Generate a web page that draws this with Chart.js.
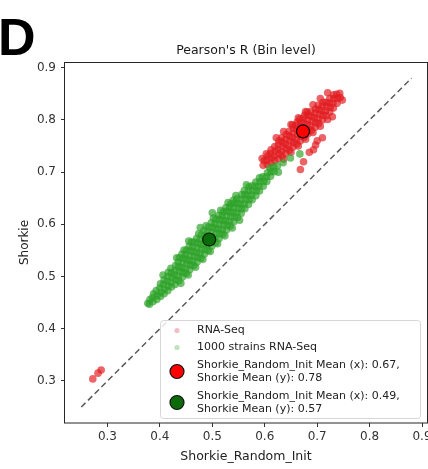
<!doctype html>
<html>

<head>
  <meta charset="utf-8">
  <title>Pearson's R (Bin level)</title>
  <script src="https://cdn.jsdelivr.net/npm/chart.js@4/dist/chart.umd.min.js"></script>
  <style>
  html, body {
    margin: 0;
    padding: 0;
    overflow: hidden;
    background: #fff;
  }
  </style>
</head>

<body>
  <canvas id="canvas" width="440" height="469"></canvas>
  <script>

  // axis ticks and limits
  var tickValues = [0.3, 0.4, 0.5, 0.6, 0.7, 0.8, 0.9];
  var xRange = [0.219, 0.9095];
  var yRange = [0.2195, 0.911];

  // y = x reference line
  var diagonal = [[0.25, 0.25], [0.88, 0.88]];

  // means: [Shorkie_Random_Init, Shorkie] for RNA-Seq and 1000 strains RNA-Seq
  var meanPoints = [[0.673, 0.778], [0.494, 0.571]];

  // RNA-Seq bins: [Shorkie_Random_Init, Shorkie]
  var rnaSeq = [
    [0.597,0.713],[0.599,0.722],
    [0.605,0.714],[0.604,0.723],[0.606,0.731],
    [0.612,0.718],[0.613,0.727],[0.611,0.736],[0.612,0.743],
    [0.619,0.722],[0.618,0.731],[0.620,0.740],[0.619,0.749],
    [0.626,0.726],[0.627,0.735],[0.625,0.744],[0.626,0.753],[0.627,0.760],
    [0.633,0.731],[0.632,0.740],[0.634,0.749],[0.633,0.758],[0.632,0.766],
    [0.640,0.736],[0.641,0.745],[0.639,0.754],[0.640,0.763],[0.641,0.772],
    [0.647,0.742],[0.646,0.751],[0.648,0.760],[0.647,0.769],[0.646,0.778],
    [0.654,0.748],[0.655,0.757],[0.653,0.766],[0.654,0.775],[0.655,0.784],[0.653,0.790],
    [0.661,0.754],[0.660,0.763],[0.662,0.772],[0.661,0.781],[0.660,0.790],[0.662,0.796],
    [0.668,0.760],[0.669,0.769],[0.667,0.778],[0.668,0.787],[0.669,0.796],[0.667,0.802],
    [0.675,0.767],[0.674,0.776],[0.676,0.785],[0.675,0.794],[0.674,0.803],[0.676,0.809],
    [0.682,0.773],[0.683,0.782],[0.681,0.791],[0.682,0.800],[0.683,0.809],[0.681,0.815],
    [0.689,0.780],[0.688,0.789],[0.690,0.798],[0.689,0.807],[0.688,0.816],
    [0.696,0.786],[0.697,0.795],[0.695,0.804],[0.696,0.813],[0.697,0.821],
    [0.703,0.793],[0.702,0.802],[0.704,0.811],[0.703,0.820],[0.702,0.828],
    [0.710,0.800],[0.711,0.809],[0.709,0.818],[0.710,0.827],[0.711,0.834],
    [0.717,0.808],[0.716,0.817],[0.718,0.826],[0.717,0.834],
    [0.724,0.815],[0.725,0.824],[0.723,0.833],[0.724,0.841],
    [0.731,0.823],[0.730,0.832],[0.732,0.841],[0.731,0.848],
    [0.738,0.832],[0.739,0.841],[0.737,0.849],
    [0.744,0.843],[0.743,0.851],
    [0.636,0.725],[0.650,0.738],[0.664,0.750],[0.678,0.763],[0.692,0.776],
    [0.706,0.788],[0.720,0.801],
    [0.622,0.766],[0.636,0.778],[0.650,0.791],[0.664,0.804],[0.678,0.816],
    [0.692,0.829],[0.706,0.841],[0.720,0.852],
    [0.697,0.752],[0.710,0.766],[0.693,0.743],[0.674,0.720],[0.668,0.705],
    [0.729,0.806],[0.748,0.838],[0.700,0.760],[0.685,0.738],[0.595,0.726],
    [0.603,0.735],[0.272,0.304],[0.282,0.315],[0.288,0.321]
  ];

  // 1000 strains RNA-Seq bins: [Shorkie_Random_Init, Shorkie]
  var strainsRnaSeq = [
    [0.377,0.449],[0.380,0.447],[0.381,0.456],
    [0.387,0.452],[0.386,0.460],[0.388,0.467],
    [0.394,0.456],[0.395,0.464],[0.393,0.473],
    [0.401,0.462],[0.402,0.470],[0.400,0.478],[0.401,0.486],
    [0.408,0.467],[0.409,0.476],[0.407,0.485],[0.408,0.494],
    [0.415,0.473],[0.416,0.482],[0.414,0.491],[0.415,0.500],[0.416,0.508],
    [0.422,0.480],[0.421,0.489],[0.423,0.498],[0.422,0.507],[0.421,0.516],
    [0.429,0.485],[0.430,0.494],[0.428,0.503],[0.429,0.512],[0.430,0.521],
    [0.436,0.492],[0.435,0.501],[0.437,0.510],[0.436,0.519],[0.435,0.528],[0.437,0.536],
    [0.443,0.499],[0.444,0.508],[0.442,0.517],[0.443,0.526],[0.444,0.535],[0.442,0.543],
    [0.450,0.506],[0.449,0.515],[0.451,0.524],[0.450,0.533],[0.449,0.542],[0.451,0.551],
    [0.457,0.513],[0.458,0.522],[0.456,0.531],[0.457,0.540],[0.458,0.549],[0.456,0.558],
    [0.464,0.521],[0.463,0.530],[0.465,0.539],[0.464,0.548],[0.463,0.557],[0.465,0.566],
    [0.471,0.528],[0.472,0.537],[0.470,0.546],[0.471,0.555],[0.472,0.564],[0.470,0.573],
    [0.478,0.535],[0.477,0.544],[0.479,0.553],[0.478,0.562],[0.477,0.571],[0.479,0.580],
    [0.485,0.543],[0.486,0.552],[0.484,0.561],[0.485,0.570],[0.486,0.579],[0.484,0.588],
    [0.492,0.550],[0.491,0.559],[0.493,0.568],[0.492,0.577],[0.491,0.586],[0.493,0.595],
    [0.499,0.558],[0.500,0.567],[0.498,0.576],[0.499,0.585],[0.500,0.594],[0.498,0.603],
    [0.506,0.565],[0.505,0.574],[0.507,0.583],[0.506,0.592],[0.505,0.601],[0.507,0.610],
    [0.513,0.573],[0.514,0.582],[0.512,0.591],[0.513,0.600],[0.514,0.609],[0.512,0.617],
    [0.520,0.581],[0.519,0.590],[0.521,0.599],[0.520,0.608],[0.519,0.617],[0.521,0.624],
    [0.527,0.589],[0.528,0.598],[0.526,0.607],[0.527,0.616],[0.528,0.625],[0.526,0.632],
    [0.534,0.597],[0.533,0.606],[0.535,0.615],[0.534,0.624],[0.533,0.633],[0.535,0.639],
    [0.541,0.605],[0.542,0.614],[0.540,0.623],[0.541,0.632],[0.542,0.641],[0.540,0.646],
    [0.548,0.613],[0.547,0.622],[0.549,0.631],[0.548,0.640],[0.547,0.649],
    [0.555,0.621],[0.556,0.630],[0.554,0.639],[0.555,0.648],[0.556,0.657],
    [0.562,0.630],[0.561,0.639],[0.563,0.648],[0.562,0.657],[0.561,0.665],
    [0.569,0.638],[0.570,0.647],[0.568,0.656],[0.569,0.665],[0.570,0.672],
    [0.576,0.647],[0.575,0.656],[0.577,0.665],[0.576,0.674],
    [0.583,0.655],[0.584,0.664],[0.582,0.673],[0.583,0.681],
    [0.590,0.664],[0.589,0.673],[0.591,0.682],[0.590,0.689],
    [0.597,0.673],[0.598,0.682],[0.596,0.691],
    [0.604,0.682],[0.603,0.691],[0.605,0.699],
    [0.611,0.692],[0.612,0.701],[0.610,0.708],
    [0.618,0.701],[0.617,0.710],[0.624,0.712],
    [0.440,0.487],[0.454,0.503],[0.468,0.518],[0.482,0.533],[0.496,0.548],
    [0.510,0.563],[0.524,0.578],[0.538,0.593],[0.552,0.608],
    [0.432,0.536],[0.446,0.551],[0.460,0.566],[0.474,0.582],[0.488,0.597],
    [0.502,0.612],[0.516,0.627],[0.530,0.642],[0.545,0.655],
    [0.477,0.594],[0.500,0.622],[0.406,0.503],[0.455,0.568],[0.565,0.676],
    [0.635,0.718],[0.649,0.727],[0.667,0.735],[0.626,0.700]
  ];

  var redPts = 'rgba(226, 28, 32, 0.68)';
  var greenPts = 'rgba(44, 162, 40, 0.68)';
  var font = '"DejaVu Sans", sans-serif';

  function toXY(list) {
    return list.map(function(p) { return {x: p[0], y: p[1]}; });
  }

  function meanLabel(m) {
    return 'Shorkie_Random_Init Mean (x): ' + m[0].toFixed(2) + ',\nShorkie Mean (y): ' + m[1].toFixed(2);
  }

  var decorations = {
    id: 'decorations',
    afterDraw: function(chart) {
      var ctx = chart.ctx;
      var a = chart.chartArea;
      ctx.save();

      // frame (all four spines)
      ctx.strokeStyle = '#262626';
      ctx.lineWidth = 1;
      ctx.strokeRect(Math.round(a.left) - 0.5, Math.round(a.top) + 0.5,
        Math.round(a.right - a.left) + 1, Math.round(a.bottom - a.top) - 0.5);

      // legend box in lower right
      var lw = 260, lh = 98;
      var lx = a.right - 7 - lw, ly = a.bottom - 5 - lh;
      ctx.beginPath();
      ctx.roundRect(lx + 0.5, ly + 0.5, lw, lh, 3);
      ctx.fillStyle = 'rgba(255,255,255,0.85)';
      ctx.fill();
      ctx.strokeStyle = '#d6d6d6';
      ctx.stroke();

      var rows = [17, 17, 31, 31];
      var y = ly + 2;
      ctx.font = '11px ' + font;
      ctx.textBaseline = 'middle';
      ctx.textAlign = 'left';
      chart.data.datasets.forEach(function(ds) {
        if (!ds.legend) return;
        var h = rows.shift();
        var cy = y + h / 2;
        ctx.beginPath();
        if (ds.legend === 'small') {
          ctx.arc(lx + 17, cy, 2.6, 0, Math.PI * 2);
          ctx.fillStyle = ds.legendColor;
          ctx.fill();
        } else {
          ctx.arc(lx + 17, cy, 7, 0, Math.PI * 2);
          ctx.fillStyle = ds.backgroundColor;
          ctx.fill();
          ctx.lineWidth = 1.2;
          ctx.strokeStyle = '#111';
          ctx.stroke();
        }
        var lines = ds.label.split('\n');
        ctx.fillStyle = '#222';
        lines.forEach(function(t, i) {
          ctx.fillText(t, lx + 37, cy + (i - (lines.length - 1) / 2) * 13);
        });
        y += h;
      });

      // plot title
      ctx.font = '12.5px ' + font;
      ctx.textAlign = 'center';
      ctx.fillStyle = '#1a1a1a';
      ctx.fillText("Pearson's R (Bin level)", (a.left + a.right) / 2, 51);

      // panel letter
      ctx.font = 'bold 52px "Liberation Sans", Arial, sans-serif';
      ctx.textAlign = 'left';
      ctx.textBaseline = 'alphabetic';
      ctx.fillStyle = '#000';
      ctx.fillText('D', -2, 55);

      ctx.restore();
    }
  };

  function axisTicks(scale) {
    scale.ticks = tickValues.map(function(v) { return {value: v}; });
  }

  var ctx = document.getElementById('canvas').getContext('2d');
  window.myChart = new Chart(ctx, {
    type: 'scatter',
    data: {
      datasets: [{
        label: 'RNA-Seq',
        data: toXY(rnaSeq),
        backgroundColor: redPts,
        borderWidth: 0,
        pointRadius: 3.8,
        legend: 'small',
        legendColor: 'rgba(214, 39, 60, 0.3)',
        order: 4
      }, {
        label: '1000 strains RNA-Seq',
        data: toXY(strainsRnaSeq),
        backgroundColor: greenPts,
        borderWidth: 0,
        pointRadius: 3.8,
        legend: 'small',
        legendColor: 'rgba(44, 160, 44, 0.3)',
        order: 3
      }, {
        label: meanLabel(meanPoints[0]),
        data: toXY([meanPoints[0]]),
        backgroundColor: '#ff0000',
        borderColor: '#1a0000',
        borderWidth: 1.2,
        pointRadius: 6.5,
        legend: 'big',
        order: 0
      }, {
        label: meanLabel(meanPoints[1]),
        data: toXY([meanPoints[1]]),
        backgroundColor: '#0b6b0b',
        borderColor: '#001a00',
        borderWidth: 1.2,
        pointRadius: 6.5,
        legend: 'big',
        order: 1
      }, {
        type: 'line',
        label: 'y = x',
        data: toXY(diagonal),
        borderColor: '#5a5a5a',
        borderWidth: 1.5,
        borderDash: [6, 3.5],
        pointRadius: 0,
        fill: false,
        order: 2
      }]
    },
    options: {
      responsive: false,
      animation: false,
      events: [],
      layout: {
        padding: {left: 0, right: 13, top: 62, bottom: 0}
      },
      plugins: {
        legend: {display: false},
        title: {display: false},
        tooltip: {enabled: false}
      },
      scales: {
        x: {
          type: 'linear',
          min: xRange[0],
          max: xRange[1],
          afterBuildTicks: axisTicks,
          afterFit: function(scale) { scale.height = 46; },
          border: {display: false},
          grid: {drawOnChartArea: false, drawTicks: true, tickLength: 4, tickColor: '#333', tickWidth: 1},
          ticks: {
            font: {family: font, size: 12},
            color: '#333',
            padding: 3,
            maxRotation: 0,
            callback: function(v) { return v.toFixed(1); }
          },
          title: {
            display: true,
            text: 'Shorkie_Random_Init',
            font: {family: font, size: 12.5},
            color: '#222',
            padding: {top: 0, bottom: 5}
          }
        },
        y: {
          type: 'linear',
          min: yRange[0],
          max: yRange[1],
          afterBuildTicks: axisTicks,
          afterFit: function(scale) { scale.width = 65; },
          border: {display: false},
          grid: {drawOnChartArea: false, drawTicks: true, tickLength: 4, tickColor: '#333', tickWidth: 1},
          ticks: {
            font: {family: font, size: 12},
            color: '#333',
            padding: 5,
            callback: function(v) { return v.toFixed(1); }
          },
          title: {
            display: true,
            text: 'Shorkie',
            font: {family: font, size: 12},
            color: '#222',
            padding: {top: 18, bottom: 0}
          }
        }
      }
    },
    plugins: [decorations]
  });
  </script>
</body>

</html>
